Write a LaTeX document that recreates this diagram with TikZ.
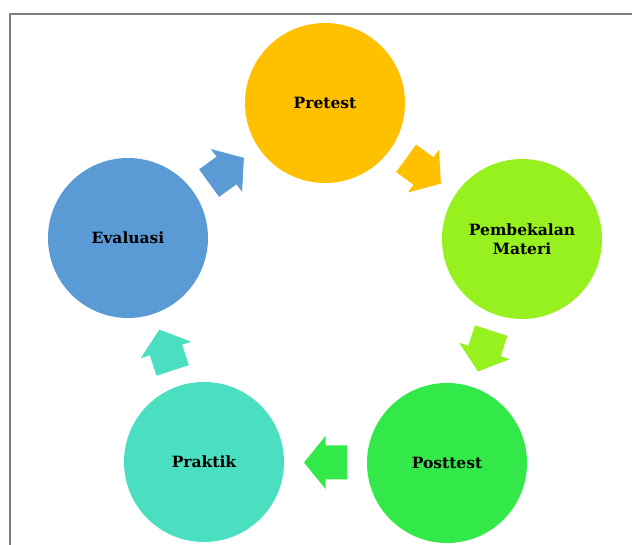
\documentclass[tikz,border=0pt]{standalone}
\usepackage{fontspec}
\setmainfont{DejaVu Serif}
\usetikzlibrary{calc}
\definecolor{cPre}{HTML}{FFC000}
\definecolor{cPem}{HTML}{97F11F}
\definecolor{cPos}{HTML}{33E94A}
\definecolor{cPra}{HTML}{4BDFC1}
\definecolor{cEva}{HTML}{5B9BD5}
\definecolor{frameGray}{HTML}{7F7F7F}
\tikzset{
  stage/.style={circle, fill=#1, draw=none, minimum size=160pt, inner sep=0pt,
    align=center, font=\fontsize{15.5}{19}\selectfont\bfseries},
  blockarrow/.style={fill=#1, draw=none}
}
% block arrow pointing along +x, centred on the origin
\newcommand{\cyclearrow}{(-21.5,-17) -- (0,-17) -- (0,-26.5) -- (21.5,0) -- (0,26.5) -- (0,17) -- (-21.5,17) -- cycle}
\begin{document}
\begin{tikzpicture}[x=1pt,y=1pt]
\useasboundingbox (0,0) rectangle (632,545);
% frame
\draw[frameGray, line width=1.3pt] (10,0) -- (10,531) -- (632,531);

% stages
\node[stage=cPre] (pre) at (325,442) {Pretest};
\node[stage=cPem] (pem) at (522,306) {Pembekalan\\Materi};
\node[stage=cPos] (pos) at (447,82) {Posttest};
\node[stage=cPra] (pra) at (204,83) {Praktik};
\node[stage=cEva] (eva) at (128,307) {Evaluasi};

% arrows between neighbouring stages
\coordinate (m1) at ($(eva)!0.5!(pre)$);
\coordinate (m2) at ($(pre)!0.5!(pem)$);
\coordinate (m3) at ($(pem)!0.5!(pos)$);
\coordinate (m4) at ($(pos)!0.5!(pra)$);
\coordinate (m5) at ($(pra)!0.5!(eva)$);
\fill[blockarrow=cEva, shift={(m1)}, rotate=36] \cyclearrow;
\fill[blockarrow=cPre, shift={(m2)}, rotate=-36] \cyclearrow;
\fill[blockarrow=cPem, shift={(m3)}, rotate=-108] \cyclearrow;
\fill[blockarrow=cPos, shift={(m4)}, rotate=180] \cyclearrow;
\fill[blockarrow=cPra, shift={(m5)}, rotate=108] \cyclearrow;
\end{tikzpicture}
\end{document}
